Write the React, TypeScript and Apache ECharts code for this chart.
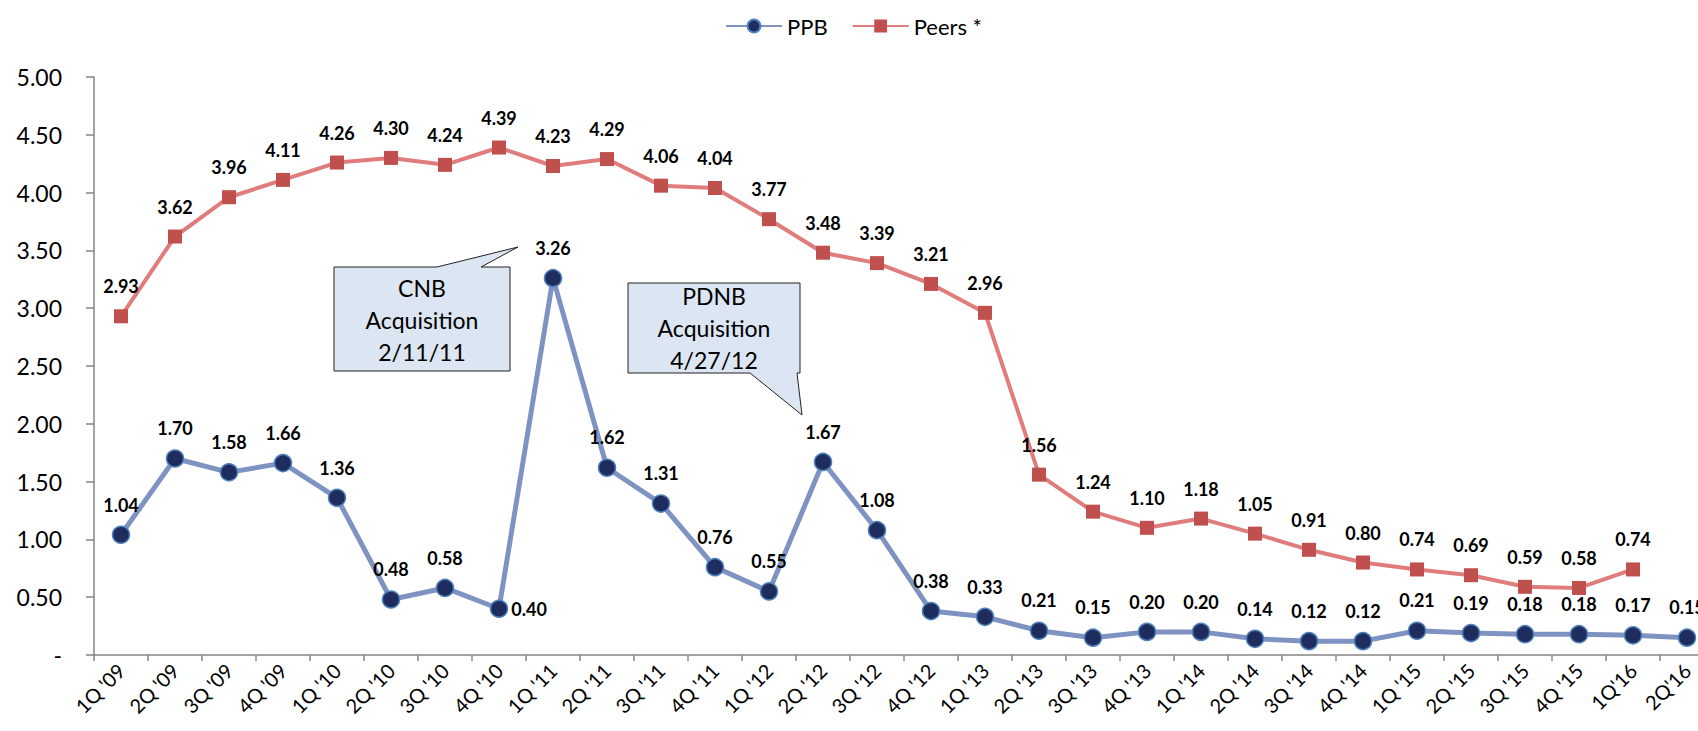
import React, { useEffect, useRef } from "react";
import * as echarts from "echarts";

const categories = [
  "1Q '09", "2Q '09", "3Q '09", "4Q '09", "1Q '10", "2Q '10", "3Q '10", "4Q '10",
  "1Q '11", "2Q '11", "3Q '11", "4Q '11", "1Q '12", "2Q '12", "3Q '12", "4Q '12",
  "1Q '13", "2Q '13", "3Q '13", "4Q '13", "1Q '14", "2Q '14", "3Q '14", "4Q '14",
  "1Q '15", "2Q '15", "3Q '15", "4Q '15", "1Q'16", "2Q'16",
];

const ppbValues = [
  1.04, 1.70, 1.58, 1.66, 1.36, 0.48, 0.58, 0.40, 3.26, 1.62, 1.31, 0.76, 0.55, 1.67, 1.08,
  0.38, 0.33, 0.21, 0.15, 0.20, 0.20, 0.14, 0.12, 0.12, 0.21, 0.19, 0.18, 0.18, 0.17, 0.15,
];

const peersValues: (number | null)[] = [
  2.93, 3.62, 3.96, 4.11, 4.26, 4.30, 4.24, 4.39, 4.23, 4.29, 4.06, 4.04, 3.77, 3.48, 3.39,
  3.21, 2.96, 1.56, 1.24, 1.10, 1.18, 1.05, 0.91, 0.80, 0.74, 0.69, 0.59, 0.58, 0.74, null,
];

const rightLabelIndex = 7; // 4Q '10 PPB label sits to the right

const FONT = "Lato, 'Open Sans', sans-serif";

export default function App() {
  const ref = useRef<HTMLDivElement>(null);

  useEffect(() => {
    if (!ref.current) return;
    const chart = echarts.init(ref.current, undefined, { renderer: "svg" });

    const labelBase = {
      show: true,
      fontFamily: FONT,
      fontWeight: "bold" as const,
      fontSize: 18,
      color: "#000",
      formatter: (p: any) => Number(p.value).toFixed(2),
    };

    const ppbData = ppbValues.map((v, i) =>
      i === rightLabelIndex
        ? { value: v, label: { position: "right", distance: 3 } }
        : v
    );

    chart.setOption({
      animation: false,
      textStyle: { fontFamily: FONT },
      legend: {
        top: 10,
        left: 720,
        itemWidth: 56,
        itemHeight: 16,
        itemGap: 24,
        textStyle: { fontFamily: FONT, fontSize: 22, color: "#000" },
        data: ["PPB", "Peers *"],
      },
      grid: { left: 94, top: 77, width: 1620, height: 578, containLabel: false },
      xAxis: {
        type: "category",
        data: categories,
        boundaryGap: true,
        axisLine: { lineStyle: { color: "#868686", width: 1.5 } },
        axisTick: { show: true, alignWithLabel: false, length: 6, lineStyle: { color: "#868686", width: 1.5 } },
        axisLabel: {
          rotate: 45,
          interval: 0,
          fontFamily: FONT,
          fontSize: 20,
          color: "#000",
          margin: 12,
        },
      },
      yAxis: {
        type: "value",
        min: 0,
        max: 5,
        interval: 0.5,
        splitLine: { show: false },
        axisLine: { show: true, lineStyle: { color: "#868686", width: 1.5 } },
        axisTick: { show: true, length: 8, lineStyle: { color: "#868686", width: 1.5 } },
        axisLabel: {
          fontFamily: FONT,
          fontSize: 23,
          color: "#000",
          margin: 32,
          formatter: (v: number) => (v === 0 ? "-" : v.toFixed(2)),
        },
      },
      series: [
        {
          name: "PPB",
          type: "line",
          data: ppbData,
          symbol: "circle",
          symbolSize: 17,
          lineStyle: { color: "#7F93C2", width: 5 },
          itemStyle: { color: "#1F2D5E", borderColor: "#4F81BD", borderWidth: 1.5 },
          label: { ...labelBase, position: "top", distance: 12 },
          z: 3,
        },
        {
          name: "Peers *",
          type: "line",
          data: peersValues,
          symbol: "rect",
          symbolSize: 14,
          connectNulls: false,
          lineStyle: { color: "#E07C7C", width: 4 },
          itemStyle: { color: "#C0504D", borderColor: "#C0504D", borderWidth: 0 },
          label: { ...labelBase, position: "top", distance: 14 },
          z: 2,
        },
      ],
      graphic: [
        {
          type: "polygon",
          shape: {
            points: [
              [334, 267], [437, 267], [518, 247], [481, 267], [510, 267], [510, 371], [334, 371],
            ],
          },
          style: { fill: "#DCE6F2", stroke: "#222", lineWidth: 1 },
          z: 10,
        },
        {
          type: "text",
          x: 422,
          y: 320,
          style: {
            text: "CNB\nAcquisition\n2/11/11",
            fontFamily: FONT,
            fontSize: 23,
            lineHeight: 32,
            fill: "#000",
            align: "center",
            verticalAlign: "middle",
          },
          z: 11,
        },
        {
          type: "polygon",
          shape: {
            points: [
              [628, 283], [800, 283], [800, 373], [797, 373], [802, 415], [750, 373], [628, 373],
            ],
          },
          style: { fill: "#DCE6F2", stroke: "#222", lineWidth: 1 },
          z: 10,
        },
        {
          type: "text",
          x: 714,
          y: 328,
          style: {
            text: "PDNB\nAcquisition\n4/27/12",
            fontFamily: FONT,
            fontSize: 23,
            lineHeight: 32,
            fill: "#000",
            align: "center",
            verticalAlign: "middle",
          },
          z: 11,
        },
      ],
    });

    return () => chart.dispose();
  }, []);

  return (
    <div
      ref={ref}
      style={{ position: "fixed", left: 0, top: 0, width: 1720, height: 731, background: "#fff" }}
    />
  );
}
